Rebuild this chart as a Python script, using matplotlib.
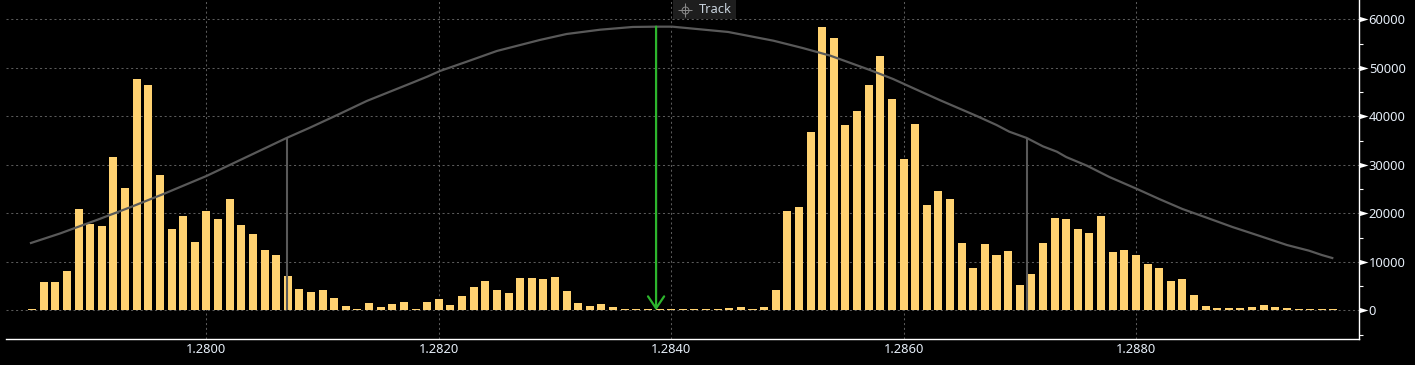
import matplotlib
matplotlib.use('Agg')
import matplotlib.pyplot as plt
from matplotlib.lines import Line2D
from matplotlib.patches import Rectangle
from matplotlib.path import Path
from matplotlib.ticker import MultipleLocator

plt.rcParams['font.family'] = ['Noto Sans', 'DejaVu Sans']

# volume per price bucket, first bucket 1.2785, one bucket every 0.0001
first_price = 1.2785
price_step = 0.0001
volume = [
    200, 5770, 5770, 8040, 20900, 17700, 17300, 31600, 25200, 47600,
    46500, 27900, 16700, 19400, 14000, 20400, 18800, 22900, 17500, 15700,
    12400, 11500, 7000, 4300, 3700, 4100, 2470, 820, 200, 1440,
    620, 1240, 1650, 200, 1650, 2270, 1030, 2890, 4740, 5980,
    4120, 3500, 6600, 6600, 6400, 6800, 3900, 1440, 820, 1240,
    620, 200, 200, 200, 200, 200, 200, 200, 200, 200,
    400, 620, 200, 620, 4120, 20500, 21300, 36800, 58400, 56100,
    38300, 41000, 46500, 52500, 43600, 31200, 38400, 21700, 24600, 23000,
    13900, 8700, 13700, 11400, 12200, 5200, 7400, 13900, 19100, 18900,
    16800, 16000, 19500, 12100, 12500, 11400, 9600, 8700, 6050, 6460,
    3160, 890, 480, 480, 480, 690, 1100, 690, 480, 270,
    270, 270, 200,
]
prices = [round(first_price + i * price_step, 4) for i in range(len(volume))]

curve_price = [
    1.27849, 1.27874, 1.27908, 1.27935, 1.27963, 1.28000, 1.28040, 1.28069,
    1.28089, 1.28115, 1.28138, 1.28158, 1.28178, 1.28190, 1.28201, 1.28224,
    1.28250, 1.28287, 1.28310, 1.28339, 1.28367, 1.28387, 1.28401, 1.28449,
    1.28488, 1.28513, 1.28537, 1.28571, 1.28591, 1.28608, 1.28631, 1.28663,
    1.28680, 1.28691, 1.28706, 1.28720, 1.28732, 1.28740, 1.28758, 1.28777,
    1.28801, 1.28820, 1.28840, 1.28861, 1.28883, 1.28904, 1.28930, 1.28949,
    1.28960, 1.28969,
]
curve_value = [
    13880, 15840, 18830, 21300, 23980, 27690, 32230, 35530,
    37650, 40540, 43160, 45080, 47000, 48170, 49340, 51260,
    53470, 55740, 56970, 57860, 58420, 58480, 58480, 57390,
    55590, 54090, 52500, 49550, 47690, 45840, 43360, 40060,
    38210, 36830, 35530, 33800, 32700, 31600, 29800, 27500,
    25010, 22950, 20890, 19090, 17180, 15530, 13460, 12290,
    11400, 10780,
]
band_prices = [1.28069, 1.28706]
band_value = 35530
peak_price = 1.28387
peak_value = 58480

x_ticks = [1.28, 1.282, 1.284, 1.286, 1.288]
x_labels = ['1.2800', '1.2820', '1.2840', '1.2860', '1.2880']
y_ticks = [0, 10000, 20000, 30000, 40000, 50000, 60000]

W, H = 1415, 365
GRID = '#5a5a5a'
CURVE = '#595959'
TEXT = '#e6eef8'
BAR = '#ffd271'
GREEN = '#2db52d'
LABEL_SIZE = 9.3


def fx(px):
    return px / W


def fy(py):
    return 1 - py / H


fig = plt.figure(figsize=(W / 100, H / 100), dpi=100, facecolor='black')
ax = fig.add_axes([fx(6), fy(339), (1359 - 6) / W, 339 / H], facecolor='black')

ax.bar(prices, volume, width=0.000069, color=BAR, zorder=2)
ax.plot(curve_price, curve_value, color=CURVE, lw=1.6, zorder=3)
ax.vlines(band_prices, 0, band_value, color=CURVE, lw=1.5, zorder=3)
ax.annotate('', xy=(peak_price, 0), xytext=(peak_price, peak_value),
            arrowprops=dict(arrowstyle='->,head_length=0.86,head_width=0.58',
                            color=GREEN, lw=1.6, shrinkA=0, shrinkB=0,
                            mutation_scale=10), zorder=4)

ax.set_xlim(1.278275, 1.28992)
ax.set_ylim(-5918, 63980)

ax.set_xticks(x_ticks)
ax.set_xticklabels(x_labels)
ax.set_yticks(y_ticks)
ax.yaxis.set_minor_locator(MultipleLocator(5000))
ax.yaxis.tick_right()
ax.tick_params(axis='x', length=0, pad=3, labelsize=LABEL_SIZE, labelcolor=TEXT)
ax.tick_params(axis='y', which='major', length=0, pad=7, labelsize=LABEL_SIZE, labelcolor=TEXT)
ax.tick_params(axis='y', which='minor', length=3, width=0.8, color='white')

ax.grid(True, which='major', color=GRID, lw=0.75, linestyle=(0, (2, 2.6)))
ax.set_axisbelow(True)

for name in ['left', 'top']:
    ax.spines[name].set_visible(False)
for name in ['right', 'bottom']:
    ax.spines[name].set_color('white')
    ax.spines[name].set_linewidth(1.0)

# white pointers on the major y ticks
pointer = Path([(0, -0.3), (1, 0), (0, 0.3), (0, -0.3)])
ax.plot([1] * len(y_ticks), y_ticks, transform=ax.get_yaxis_transform(), clip_on=False,
        linestyle='none', marker=pointer, markersize=13, color='white', markeredgewidth=0, zorder=5)

# Track button
fig.add_artist(Rectangle((fx(673), fy(19)), 63 / W, 19 / H, transform=fig.transFigure,
                         facecolor='#1e1e1e', edgecolor='none', zorder=6))
fig.add_artist(Line2D([fx(685)], [fy(9.5)], transform=fig.transFigure, marker='o', markersize=5,
                      markerfacecolor='none', markeredgecolor='#8a8a8a', markeredgewidth=0.7, zorder=7))
fig.add_artist(Line2D([fx(685)], [fy(9.5)], transform=fig.transFigure, marker='+', markersize=10,
                      markeredgecolor='#8a8a8a', markeredgewidth=0.7, zorder=7))
fig.text(fx(699), fy(9.5), 'Track', color='#c8d2dc', fontsize=LABEL_SIZE, va='center', ha='left', zorder=7)

fig.savefig('out.png', dpi=100, facecolor='black')
